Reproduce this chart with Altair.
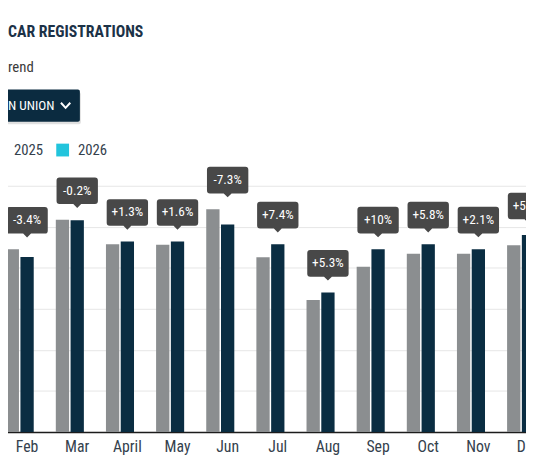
import altair as alt
import pandas as pd

FONT = "Roboto Condensed, Liberation Sans Narrow, Roboto, sans-serif"

# ---- data (thousands of registrations) ----
months = ["Jan", "Feb", "Mar", "April", "May", "Jun", "Jul", "Aug", "Sep", "Oct", "Nov", "Dec"]
shown_months = ["Feb", "Mar", "April", "May", "Jun", "Jul", "Aug", "Sep", "Oct", "Nov", "Dec"]
reg_2024 = [890, 1034, 915, 912, 1086, 851, 643, 805, 869, 869, 910]
reg_2025 = [853, 1032, 928, 928, 1011, 915, 680, 891, 915, 891, 960]
changes = ["-3.4%", "-0.2%", "+1.3%", "+1.6%", "-7.3%", "+7.4%", "+5.3%", "+10%", "+5.8%", "+2.1%", "+5.5%"]
years = ["2024", "2025", "2026"]
year_colors = ["#8b8e90", "#0a2d42", "#22c4dc"]
grid_values = [0, 200, 400, 600, 800, 1000, 1200]

rows = []
for m, a, b in zip(shown_months, reg_2024, reg_2025):
    rows.append({"month": m, "year": "2024", "value": a})
    rows.append({"month": m, "year": "2025", "value": b})
bars_df = pd.DataFrame(rows)
lab_df = pd.DataFrame({
    "month": shown_months,
    "year": ["2025"] * len(shown_months),
    "top": [max(a, b) for a, b in zip(reg_2024, reg_2025)],
    "label": changes,
})

x_scale = alt.Scale(domain=months, paddingInner=0.146, paddingOuter=0.073)
xo_scale = alt.Scale(domain=years, paddingInner=0.1, paddingOuter=0)
y_scale = alt.Scale(domain=[0, 1200], nice=False)

x_axis = alt.Axis(title=None, labelAngle=0, labelFont=FONT, labelFontSize=16,
                  labelColor="#34414d", labelPadding=20, labelBaseline="alphabetic",
                  labelExpr="datum.label == 'Jan' ? '' : datum.label",
                  ticks=False, tickSize=0, domainColor="#1c1c1c", domainWidth=1.5, grid=False)
y_axis = alt.Axis(title=None, labels=False, ticks=False, domain=False, grid=True,
                  gridColor="#e6e6e6", gridWidth=1, values=grid_values)

bars = alt.Chart(bars_df).mark_bar().encode(
    x=alt.X("month:N", scale=x_scale, axis=x_axis),
    xOffset=alt.XOffset("year:N", scale=xo_scale),
    y=alt.Y("value:Q", scale=y_scale, axis=y_axis),
    color=alt.Color("year:N", scale=alt.Scale(domain=years, range=year_colors),
                    legend=alt.Legend(title=None, orient="none", legendX=-25, legendY=-44,
                                      direction="horizontal", symbolType="square",
                                      symbolSize=169, symbolStrokeWidth=0, symbolOpacity=1,
                                      labelFont=FONT, labelFontSize=15, labelColor="#34414d",
                                      labelOffset=8, columnPadding=12)),
)

CALLOUT = ("M-0.857,-2.048 L0.857,-2.048 Q1,-2.048 1,-1.905 L1,-0.905 Q1,-0.762 0.857,-0.762 "
           "L0.19,-0.762 L0,-0.571 L-0.19,-0.762 L-0.857,-0.762 Q-1,-0.762 -1,-0.905 "
           "L-1,-1.905 Q-1,-2.048 -0.857,-2.048 Z")

callouts = alt.Chart(lab_df).mark_point(shape=CALLOUT, size=1764, filled=True, fill="#484848",
                                        opacity=1, strokeWidth=0).encode(
    x=alt.X("month:N", scale=x_scale, axis=x_axis),
    xOffset=alt.XOffset("year:N", scale=xo_scale),
    y=alt.Y("top:Q", scale=y_scale, axis=y_axis),
)

callout_text = alt.Chart(lab_df).mark_text(font=FONT, fontSize=13.5, color="white", dy=-29.5,
                                           baseline="middle", align="center").encode(
    x=alt.X("month:N", scale=x_scale, axis=x_axis),
    xOffset=alt.XOffset("year:N", scale=xo_scale),
    y=alt.Y("top:Q", scale=y_scale, axis=y_axis),
    text="label:N",
)


def txt(text, x, y, size, color, weight="normal", align="left"):
    return alt.Chart(pd.DataFrame({"t": [text]})).mark_text(
        font=FONT, fontSize=size, color=color, fontWeight=weight, align=align,
        baseline="alphabetic").encode(text="t:N", x=alt.value(x), y=alt.value(y))


one = pd.DataFrame({"a": [0]})
title = txt("CAR REGISTRATIONS", 57, -150.7, 16, "#1c3247", "bold")
subtitle = txt("rend", 57, -115.7, 15, "#3a3a3a")
shadow = alt.Chart(one).mark_rect(color="#000000", opacity=0.12, cornerRadius=2).encode(
    x=alt.value(-100), x2=alt.value(131), y=alt.value(-95), y2=alt.value(-62.5))
button = alt.Chart(one).mark_rect(color="#0b2b40", cornerRadius=2).encode(
    x=alt.value(-101), x2=alt.value(130), y=alt.value(-97.7), y2=alt.value(-65))
button_text = txt("N UNION", 57, -77, 13.5, "#ffffff")
chevron = alt.Chart(one).mark_point(shape="M-1,-0.55 L0,0.55 L1,-0.55", size=90, filled=False,
                                    stroke="#ffffff", strokeWidth=2, opacity=1).encode(
    x=alt.value(115.5), y=alt.value(-81.7))

chart = alt.layer(bars, callouts, callout_text, title, subtitle, shadow, button, button_text,
                  chevron).properties(
    width=611, height=250,
    padding={"left": -57, "top": 177, "right": -28, "bottom": 25},
    autosize=alt.AutoSizeParams(type="none"),
    background="#ffffff",
).configure_view(strokeWidth=0)

chart.save("out.html", embed_options={"renderer": "svg", "actions": False})
